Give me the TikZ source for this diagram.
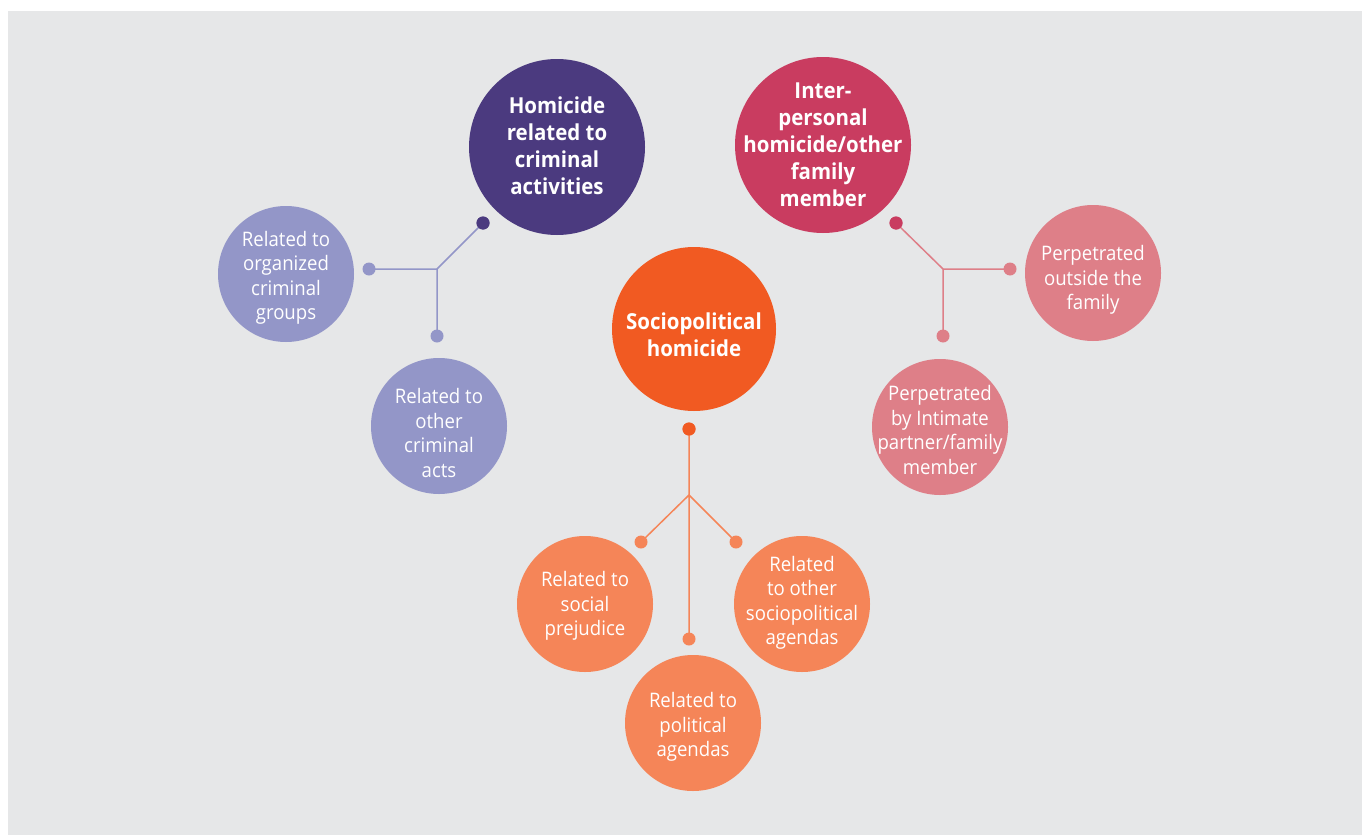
\documentclass[tikz,border=0pt]{standalone}
\usepackage{fontspec}
\setmainfont[FakeStretch=0.93]{Open Sans}
\definecolor{bggray}{HTML}{E6E7E8}
\definecolor{dpurple}{HTML}{4B3A7F}
\definecolor{lpurple}{HTML}{9396C8}
\definecolor{dpink}{HTML}{C93C60}
\definecolor{lpink}{HTML}{DE7F88}
\definecolor{dorange}{HTML}{F15A22}
\definecolor{lorange}{HTML}{F58558}
\tikzset{
  big/.style={circle,minimum size=176pt,inner sep=0pt},
  small/.style={circle,minimum size=136pt,inner sep=0pt},
  btxt/.style={align=center,text=white,inner sep=0pt,
    font=\fontsize{22}{27}\selectfont\bfseries},
  stxt/.style={align=center,text=white,inner sep=0pt,
    font=\fontsize{20}{24.5}\selectfont},
  dot/.style={circle,minimum size=13pt,inner sep=0pt},
  link/.style={line width=1.5pt},
}
\begin{document}
\begin{tikzpicture}[x=1pt,y=-1pt]
\useasboundingbox (0,0) rectangle (1362,835);
\fill[white] (0,0) rectangle (1362,835);
\fill[bggray] (8,11) rectangle (1362,835);

% big circles
\node[big,fill=dpurple,label={[btxt,yshift=1pt]center:Homicide\\related to\\criminal\\activities}] (crim) at (557,147) {};
\node[big,fill=dpink,label={[btxt]center:Inter-\\personal\\homicide/other\\family\\member}] (inter) at (823,145) {};
\node[big,fill=dorange,minimum size=164pt,label={[btxt,yshift=-6pt]center:Sociopolitical\\homicide}] (socio) at (694,329) {};

% small circles
\node[small,fill=lpurple,label={[stxt,yshift=-4pt]center:Related to\\organized\\criminal\\groups}] (org) at (286,274) {};
\node[small,fill=lpurple,label={[stxt,yshift=-7pt]center:Related to\\other\\criminal\\acts}] (oth) at (439,426) {};
\node[small,fill=lpink,label={[stxt,yshift=-7pt]center:Perpetrated\\outside the\\family}] (outs) at (1093,273) {};
\node[small,fill=lpink,label={[stxt,yshift=-3pt]center:Perpetrated\\by Intimate\\partner/family\\member}] (intim) at (940,427) {};
\node[small,fill=lorange,label={[stxt,yshift=-2pt]center:Related to\\social\\prejudice}] (prej) at (585,604) {};
\node[small,fill=lorange,label={[stxt,yshift=-4pt]center:Related to\\political\\agendas}] (pol) at (693,723) {};
\node[small,fill=lorange,label={[stxt,yshift=1pt]center:Related\\to other\\sociopolitical\\agendas}] (osoc) at (802,604) {};

% purple connector
\coordinate (jp) at (437,269);
\node[dot,fill=dpurple] (pd0) at (483,223) {};
\node[dot,fill=lpurple] (pd1) at (369,269) {};
\node[dot,fill=lpurple] (pd2) at (437,336) {};
\draw[link,lpurple] (pd0.center) -- (jp) -- (pd1.center) (jp) -- (pd2.center);
\node[dot,fill=dpurple] at (pd0) {};

% pink connector
\coordinate (jk) at (943,269);
\node[dot,fill=dpink] (kd0) at (896,223) {};
\node[dot,fill=lpink] (kd1) at (1010,269) {};
\node[dot,fill=lpink] (kd2) at (943,336) {};
\draw[link,lpink] (kd0.center) -- (jk) -- (kd1.center) (jk) -- (kd2.center);
\node[dot,fill=dpink] at (kd0) {};

% orange connector
\coordinate (jo) at (689,495);
\node[dot,fill=dorange] (od0) at (689,429) {};
\node[dot,fill=lorange] (od1) at (641,542) {};
\node[dot,fill=lorange] (od2) at (736,542) {};
\node[dot,fill=lorange] (od3) at (689,639) {};
\draw[link,lorange] (od0.center) -- (od3.center) (jo) -- (od1.center) (jo) -- (od2.center);
\node[dot,fill=dorange] at (od0) {};
\end{tikzpicture}
\end{document}
